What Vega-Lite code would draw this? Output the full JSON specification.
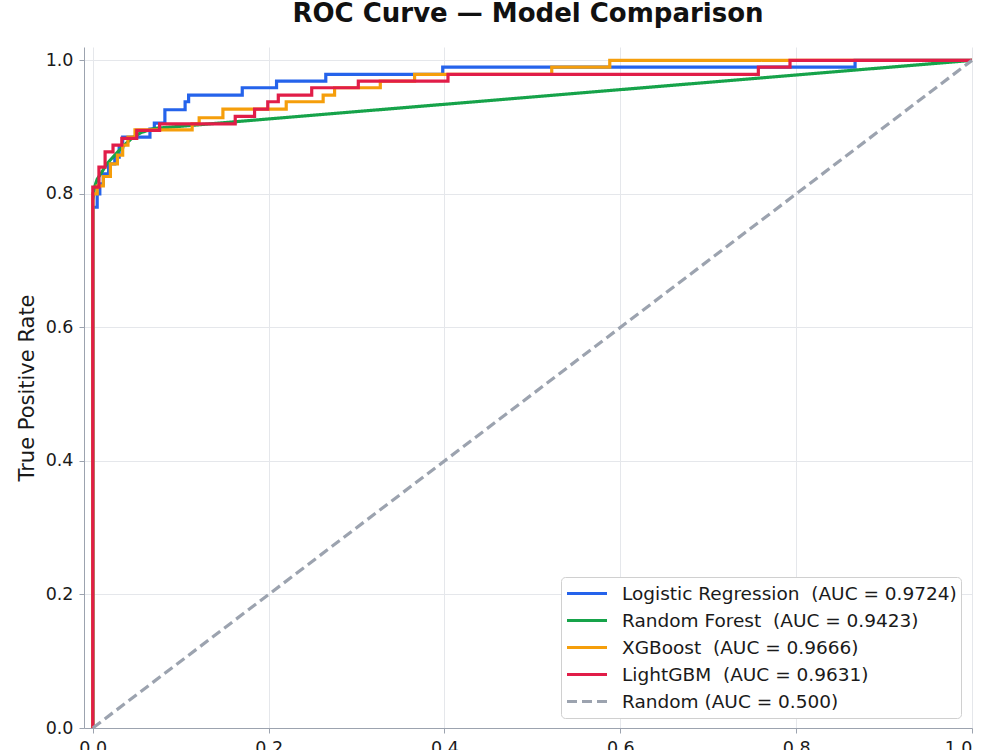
{
  "$schema": "https://vega.github.io/schema/vega-lite/v6.json",
  "width": 888,
  "height": 681,
  "autosize": {"type": "none"},
  "padding": {"left": 84, "top": 47, "right": 28, "bottom": 22},
  "background": "#ffffff",
  "title": {"text": "ROC Curve — Model Comparison", "font": "DejaVu Sans", "fontSize": 26, "fontWeight": "bold", "color": "#111111", "anchor": "middle", "baseline": "alphabetic", "offset": -1},
  "config": {
    "view": {"stroke": null},
    "axis": {"labelFont": "DejaVu Sans", "titleFont": "DejaVu Sans", "labelFontSize": 17.5, "titleFontSize": 21, "titleFontWeight": "normal", "labelColor": "#1a1a1a", "titleColor": "#1a1a1a", "domainColor": "#9ca3af", "tickColor": "#9ca3af", "tickSize": 5, "gridColor": "#e5e7eb", "gridWidth": 1, "labelPadding": 6}
  },
  "data": {"values": [
    {"model":"Logistic Regression","fpr":0,"tpr":0},
    {"model":"Logistic Regression","fpr":0,"tpr":0.78},
    {"model":"Logistic Regression","fpr":0.005,"tpr":0.78},
    {"model":"Logistic Regression","fpr":0.005,"tpr":0.80},
    {"model":"Logistic Regression","fpr":0.008,"tpr":0.80},
    {"model":"Logistic Regression","fpr":0.008,"tpr":0.815},
    {"model":"Logistic Regression","fpr":0.012,"tpr":0.815},
    {"model":"Logistic Regression","fpr":0.012,"tpr":0.83},
    {"model":"Logistic Regression","fpr":0.018,"tpr":0.83},
    {"model":"Logistic Regression","fpr":0.018,"tpr":0.845},
    {"model":"Logistic Regression","fpr":0.025,"tpr":0.845},
    {"model":"Logistic Regression","fpr":0.025,"tpr":0.855},
    {"model":"Logistic Regression","fpr":0.03,"tpr":0.855},
    {"model":"Logistic Regression","fpr":0.03,"tpr":0.87},
    {"model":"Logistic Regression","fpr":0.034,"tpr":0.87},
    {"model":"Logistic Regression","fpr":0.034,"tpr":0.885},
    {"model":"Logistic Regression","fpr":0.065,"tpr":0.885},
    {"model":"Logistic Regression","fpr":0.065,"tpr":0.897},
    {"model":"Logistic Regression","fpr":0.07,"tpr":0.897},
    {"model":"Logistic Regression","fpr":0.07,"tpr":0.906},
    {"model":"Logistic Regression","fpr":0.082,"tpr":0.906},
    {"model":"Logistic Regression","fpr":0.082,"tpr":0.926},
    {"model":"Logistic Regression","fpr":0.105,"tpr":0.926},
    {"model":"Logistic Regression","fpr":0.105,"tpr":0.938},
    {"model":"Logistic Regression","fpr":0.109,"tpr":0.938},
    {"model":"Logistic Regression","fpr":0.109,"tpr":0.948},
    {"model":"Logistic Regression","fpr":0.17,"tpr":0.948},
    {"model":"Logistic Regression","fpr":0.17,"tpr":0.959},
    {"model":"Logistic Regression","fpr":0.209,"tpr":0.959},
    {"model":"Logistic Regression","fpr":0.209,"tpr":0.969},
    {"model":"Logistic Regression","fpr":0.265,"tpr":0.969},
    {"model":"Logistic Regression","fpr":0.265,"tpr":0.979},
    {"model":"Logistic Regression","fpr":0.398,"tpr":0.979},
    {"model":"Logistic Regression","fpr":0.398,"tpr":0.99},
    {"model":"Logistic Regression","fpr":0.867,"tpr":0.99},
    {"model":"Logistic Regression","fpr":0.867,"tpr":1.0},
    {"model":"Logistic Regression","fpr":1.0,"tpr":1.0},
    {"model":"Random Forest","fpr":0,"tpr":0},
    {"model":"Random Forest","fpr":0,"tpr":0.79},
    {"model":"Random Forest","fpr":0.002,"tpr":0.81},
    {"model":"Random Forest","fpr":0.005,"tpr":0.822},
    {"model":"Random Forest","fpr":0.01,"tpr":0.832},
    {"model":"Random Forest","fpr":0.016,"tpr":0.845},
    {"model":"Random Forest","fpr":0.025,"tpr":0.858},
    {"model":"Random Forest","fpr":0.035,"tpr":0.872},
    {"model":"Random Forest","fpr":0.045,"tpr":0.884},
    {"model":"Random Forest","fpr":0.055,"tpr":0.892},
    {"model":"Random Forest","fpr":0.07,"tpr":0.898},
    {"model":"Random Forest","fpr":1.0,"tpr":1.0},
    {"model":"XGBoost","fpr":0,"tpr":0},
    {"model":"XGBoost","fpr":0,"tpr":0.80},
    {"model":"XGBoost","fpr":0.005,"tpr":0.80},
    {"model":"XGBoost","fpr":0.005,"tpr":0.812},
    {"model":"XGBoost","fpr":0.012,"tpr":0.812},
    {"model":"XGBoost","fpr":0.012,"tpr":0.826},
    {"model":"XGBoost","fpr":0.02,"tpr":0.826},
    {"model":"XGBoost","fpr":0.02,"tpr":0.845},
    {"model":"XGBoost","fpr":0.028,"tpr":0.845},
    {"model":"XGBoost","fpr":0.028,"tpr":0.858},
    {"model":"XGBoost","fpr":0.034,"tpr":0.858},
    {"model":"XGBoost","fpr":0.034,"tpr":0.873},
    {"model":"XGBoost","fpr":0.04,"tpr":0.873},
    {"model":"XGBoost","fpr":0.04,"tpr":0.885},
    {"model":"XGBoost","fpr":0.048,"tpr":0.885},
    {"model":"XGBoost","fpr":0.048,"tpr":0.896},
    {"model":"XGBoost","fpr":0.113,"tpr":0.896},
    {"model":"XGBoost","fpr":0.113,"tpr":0.905},
    {"model":"XGBoost","fpr":0.121,"tpr":0.905},
    {"model":"XGBoost","fpr":0.121,"tpr":0.914},
    {"model":"XGBoost","fpr":0.148,"tpr":0.914},
    {"model":"XGBoost","fpr":0.148,"tpr":0.927},
    {"model":"XGBoost","fpr":0.22,"tpr":0.927},
    {"model":"XGBoost","fpr":0.22,"tpr":0.938},
    {"model":"XGBoost","fpr":0.262,"tpr":0.938},
    {"model":"XGBoost","fpr":0.262,"tpr":0.948},
    {"model":"XGBoost","fpr":0.275,"tpr":0.948},
    {"model":"XGBoost","fpr":0.275,"tpr":0.959},
    {"model":"XGBoost","fpr":0.327,"tpr":0.959},
    {"model":"XGBoost","fpr":0.327,"tpr":0.969},
    {"model":"XGBoost","fpr":0.366,"tpr":0.969},
    {"model":"XGBoost","fpr":0.366,"tpr":0.979},
    {"model":"XGBoost","fpr":0.522,"tpr":0.979},
    {"model":"XGBoost","fpr":0.522,"tpr":0.99},
    {"model":"XGBoost","fpr":0.588,"tpr":0.99},
    {"model":"XGBoost","fpr":0.588,"tpr":1.0},
    {"model":"XGBoost","fpr":1.0,"tpr":1.0},
    {"model":"LightGBM","fpr":0,"tpr":0},
    {"model":"LightGBM","fpr":0,"tpr":0.81},
    {"model":"LightGBM","fpr":0.007,"tpr":0.81},
    {"model":"LightGBM","fpr":0.007,"tpr":0.84},
    {"model":"LightGBM","fpr":0.014,"tpr":0.84},
    {"model":"LightGBM","fpr":0.014,"tpr":0.863},
    {"model":"LightGBM","fpr":0.023,"tpr":0.863},
    {"model":"LightGBM","fpr":0.023,"tpr":0.873},
    {"model":"LightGBM","fpr":0.033,"tpr":0.873},
    {"model":"LightGBM","fpr":0.033,"tpr":0.883},
    {"model":"LightGBM","fpr":0.05,"tpr":0.883},
    {"model":"LightGBM","fpr":0.05,"tpr":0.895},
    {"model":"LightGBM","fpr":0.076,"tpr":0.895},
    {"model":"LightGBM","fpr":0.076,"tpr":0.905},
    {"model":"LightGBM","fpr":0.162,"tpr":0.905},
    {"model":"LightGBM","fpr":0.162,"tpr":0.916},
    {"model":"LightGBM","fpr":0.184,"tpr":0.916},
    {"model":"LightGBM","fpr":0.184,"tpr":0.927},
    {"model":"LightGBM","fpr":0.199,"tpr":0.927},
    {"model":"LightGBM","fpr":0.199,"tpr":0.938},
    {"model":"LightGBM","fpr":0.211,"tpr":0.938},
    {"model":"LightGBM","fpr":0.211,"tpr":0.948},
    {"model":"LightGBM","fpr":0.249,"tpr":0.948},
    {"model":"LightGBM","fpr":0.249,"tpr":0.959},
    {"model":"LightGBM","fpr":0.302,"tpr":0.959},
    {"model":"LightGBM","fpr":0.302,"tpr":0.969},
    {"model":"LightGBM","fpr":0.404,"tpr":0.969},
    {"model":"LightGBM","fpr":0.404,"tpr":0.979},
    {"model":"LightGBM","fpr":0.757,"tpr":0.979},
    {"model":"LightGBM","fpr":0.757,"tpr":0.99},
    {"model":"LightGBM","fpr":0.793,"tpr":0.99},
    {"model":"LightGBM","fpr":0.793,"tpr":1.0},
    {"model":"LightGBM","fpr":1.0,"tpr":1.0},
    {"model":"Random","fpr":0,"tpr":0},
    {"model":"Random","fpr":1.0,"tpr":1.0}
  ]},
  "mark": {"type": "line", "interpolate": "linear", "strokeCap": "butt", "strokeJoin": "miter"},
  "encoding": {
    "x": {"field": "fpr", "type": "quantitative", "scale": {"domain": [-0.01, 1.0], "nice": false, "zero": false},
          "axis": {"title": "False Positive Rate", "values": [0, 0.2, 0.4, 0.6, 0.8, 1.0], "format": ".1f", "grid": true}},
    "y": {"field": "tpr", "type": "quantitative", "scale": {"domain": [0, 1.02], "nice": false, "zero": false},
          "axis": {"title": "True Positive Rate", "values": [0, 0.2, 0.4, 0.6, 0.8, 1.0], "format": ".1f", "grid": true, "titlePadding": 8}},
    "color": {"field": "model", "type": "nominal",
      "scale": {"domain": ["Logistic Regression", "Random Forest", "XGBoost", "LightGBM", "Random"], "range": ["#2563eb", "#16a34a", "#f59e0b", "#e11d48", "#9ca3af"]},
      "legend": {"title": null, "orient": "none", "legendX": 477, "legendY": 530, "symbolType": "stroke", "symbolSize": 1600, "symbolStrokeWidth": 3, "clipHeight": 25, "rowPadding": 2, "padding": 4, "labelOffset": 13, "labelFont": "DejaVu Sans", "labelFontSize": 18.5, "labelColor": "#1a1a1a", "labelLimit": 600, "fillColor": "#ffffff", "strokeColor": "#d0d0d0", "cornerRadius": 4,
        "labelExpr": "datum.label == 'Logistic Regression' ? 'Logistic Regression\u00a0 (AUC = 0.9724)' : datum.label == 'Random Forest' ? 'Random Forest\u00a0 (AUC = 0.9423)' : datum.label == 'XGBoost' ? 'XGBoost\u00a0 (AUC = 0.9666)' : datum.label == 'LightGBM' ? 'LightGBM\u00a0 (AUC = 0.9631)' : 'Random (AUC = 0.500)'"}},
    "strokeDash": {"field": "model", "type": "nominal",
      "scale": {"domain": ["Logistic Regression", "Random Forest", "XGBoost", "LightGBM", "Random"], "range": [[1, 0], [1, 0], [1, 0], [1, 0], [10, 5]]},
      "legend": {"title": null, "orient": "none", "legendX": 477, "legendY": 530, "symbolType": "stroke", "symbolSize": 1600, "symbolStrokeWidth": 3, "clipHeight": 25, "rowPadding": 2, "padding": 4, "labelOffset": 13, "labelFont": "DejaVu Sans", "labelFontSize": 18.5, "labelColor": "#1a1a1a", "labelLimit": 600, "fillColor": "#ffffff", "strokeColor": "#d0d0d0", "cornerRadius": 4,
        "labelExpr": "datum.label == 'Logistic Regression' ? 'Logistic Regression\u00a0 (AUC = 0.9724)' : datum.label == 'Random Forest' ? 'Random Forest\u00a0 (AUC = 0.9423)' : datum.label == 'XGBoost' ? 'XGBoost\u00a0 (AUC = 0.9666)' : datum.label == 'LightGBM' ? 'LightGBM\u00a0 (AUC = 0.9631)' : 'Random (AUC = 0.500)'"}},
    "strokeWidth": {"field": "model", "type": "nominal",
      "scale": {"domain": ["Logistic Regression", "Random Forest", "XGBoost", "LightGBM", "Random"], "range": [3.2, 3.2, 3.2, 3.2, 2]}, "legend": null},
    "order": {"value": null}
  }
}
